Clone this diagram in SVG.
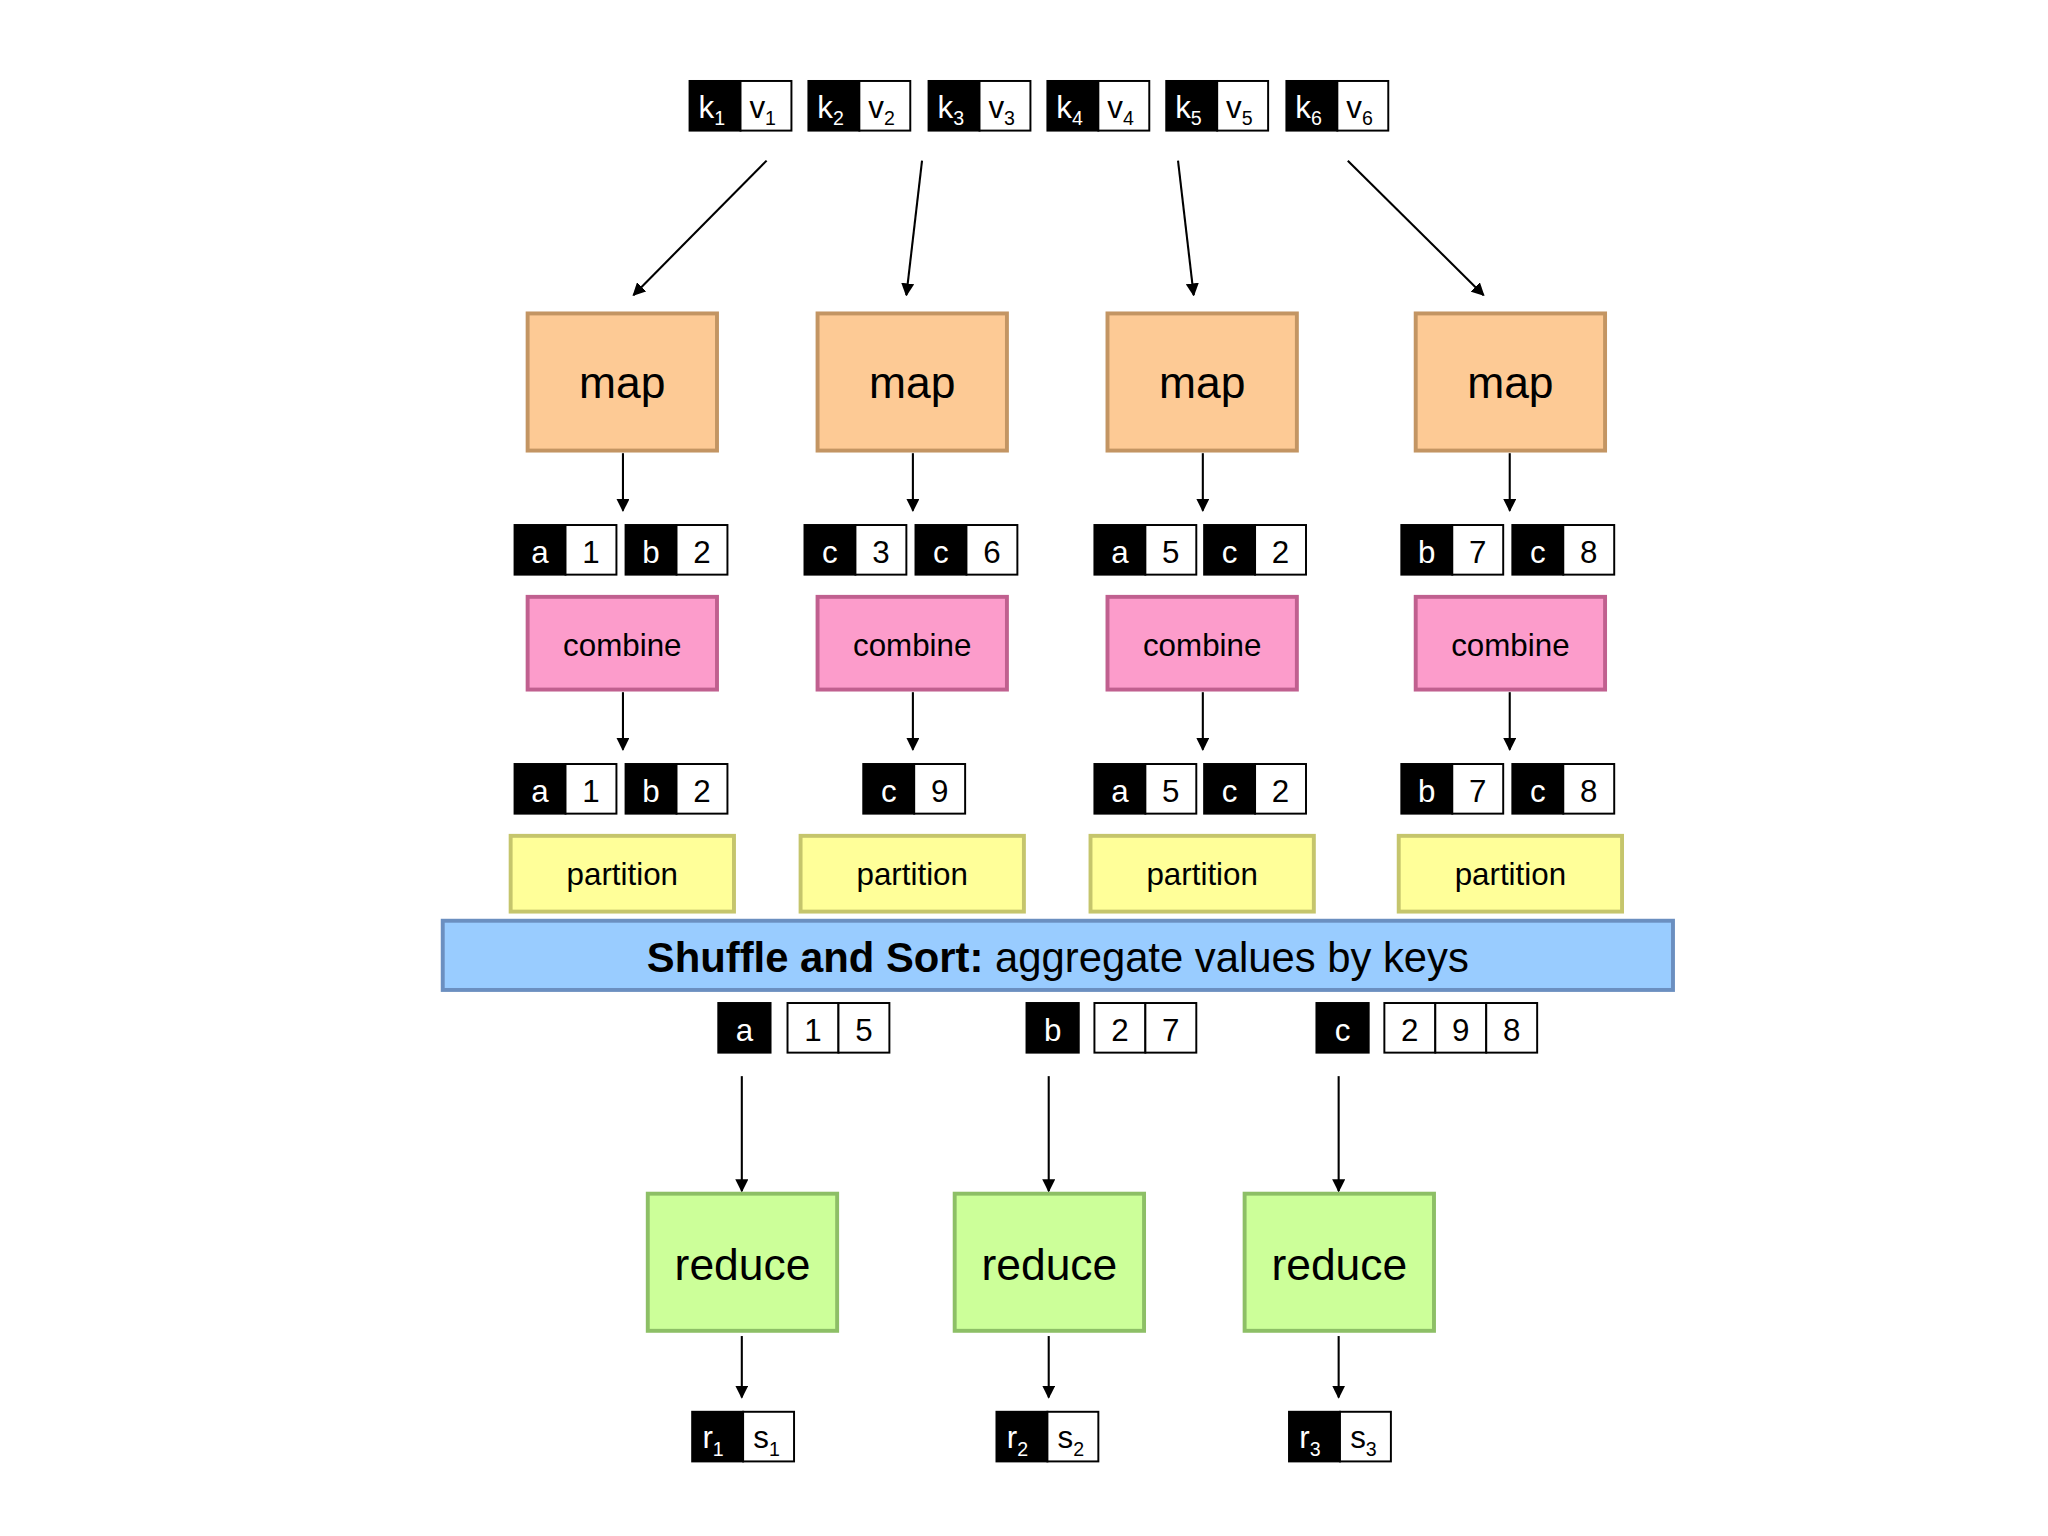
<svg xmlns="http://www.w3.org/2000/svg" width="2048" height="1536" viewBox="0 0 2048 1536">
<defs>
<marker id="ah" markerWidth="10" markerHeight="10" refX="9" refY="5" orient="auto" markerUnits="userSpaceOnUse"><path d="M0,0 L10,5 L0,10 Z" fill="#000"/></marker>
<style>
text{font-family:"Liberation Sans",Arial,sans-serif;text-anchor:middle}
.k{fill:#000;stroke:#000;stroke-width:1.5}
.v{fill:#fff;stroke:#000;stroke-width:1.5}
.kt{fill:#fff;font-size:24px}
.vt{fill:#000;font-size:24px}
.map{fill:#fdca95;stroke:#c39563;stroke-width:3}
.comb{fill:#fc9ccb;stroke:#c0608f;stroke-width:3}
.part{fill:#ffff99;stroke:#c5c56c;stroke-width:3}
.red{fill:#ccff99;stroke:#8dbf66;stroke-width:3}
.c line{stroke:#000;stroke-width:1.6;marker-end:url(#ah)}
</style>
</defs>
<rect width="2048" height="1536" fill="#fff"/>
<g transform="scale(1.306)">
<g id="inputs">
<rect class="k" x="528" y="62" width="39" height="38"/><rect class="v" x="567" y="62" width="39" height="38"/><text class="kt" x="545" y="90">k<tspan font-size="15" dy="6">1</tspan></text><text class="vt" x="584" y="90">v<tspan font-size="15" dy="6">1</tspan></text>
<rect class="k" x="619" y="62" width="39" height="38"/><rect class="v" x="658" y="62" width="39" height="38"/><text class="kt" x="636" y="90">k<tspan font-size="15" dy="6">2</tspan></text><text class="vt" x="675" y="90">v<tspan font-size="15" dy="6">2</tspan></text>
<rect class="k" x="711" y="62" width="39" height="38"/><rect class="v" x="750" y="62" width="39" height="38"/><text class="kt" x="728" y="90">k<tspan font-size="15" dy="6">3</tspan></text><text class="vt" x="767" y="90">v<tspan font-size="15" dy="6">3</tspan></text>
<rect class="k" x="802" y="62" width="39" height="38"/><rect class="v" x="841" y="62" width="39" height="38"/><text class="kt" x="819" y="90">k<tspan font-size="15" dy="6">4</tspan></text><text class="vt" x="858" y="90">v<tspan font-size="15" dy="6">4</tspan></text>
<rect class="k" x="893" y="62" width="39" height="38"/><rect class="v" x="932" y="62" width="39" height="38"/><text class="kt" x="910" y="90">k<tspan font-size="15" dy="6">5</tspan></text><text class="vt" x="949" y="90">v<tspan font-size="15" dy="6">5</tspan></text>
<rect class="k" x="985" y="62" width="39" height="38"/><rect class="v" x="1024" y="62" width="39" height="38"/><text class="kt" x="1002" y="90">k<tspan font-size="15" dy="6">6</tspan></text><text class="vt" x="1041" y="90">v<tspan font-size="15" dy="6">6</tspan></text>
</g>
<g id="map1"><rect class="map" x="404" y="240" width="145" height="105"/><text x="476.5" y="305" font-size="34">map</text></g>
<g id="map2"><rect class="map" x="626" y="240" width="145" height="105"/><text x="698.5" y="305" font-size="34">map</text></g>
<g id="map3"><rect class="map" x="848" y="240" width="145" height="105"/><text x="920.5" y="305" font-size="34">map</text></g>
<g id="map4"><rect class="map" x="1084" y="240" width="145" height="105"/><text x="1156.5" y="305" font-size="34">map</text></g>
<g id="mapout">
<rect class="k" x="394" y="402" width="39" height="38"/><rect class="v" x="433" y="402" width="39" height="38"/><text class="kt" x="413.5" y="431">a</text><text class="vt" x="452.5" y="431">1</text>
<rect class="k" x="479" y="402" width="39" height="38"/><rect class="v" x="518" y="402" width="39" height="38"/><text class="kt" x="498.5" y="431">b</text><text class="vt" x="537.5" y="431">2</text>
<rect class="k" x="616" y="402" width="39" height="38"/><rect class="v" x="655" y="402" width="39" height="38"/><text class="kt" x="635.5" y="431">c</text><text class="vt" x="674.5" y="431">3</text>
<rect class="k" x="701" y="402" width="39" height="38"/><rect class="v" x="740" y="402" width="39" height="38"/><text class="kt" x="720.5" y="431">c</text><text class="vt" x="759.5" y="431">6</text>
<rect class="k" x="838" y="402" width="39" height="38"/><rect class="v" x="877" y="402" width="39" height="38"/><text class="kt" x="857.5" y="431">a</text><text class="vt" x="896.5" y="431">5</text>
<rect class="k" x="922" y="402" width="39" height="38"/><rect class="v" x="961" y="402" width="39" height="38"/><text class="kt" x="941.5" y="431">c</text><text class="vt" x="980.5" y="431">2</text>
<rect class="k" x="1073" y="402" width="39" height="38"/><rect class="v" x="1112" y="402" width="39" height="38"/><text class="kt" x="1092.5" y="431">b</text><text class="vt" x="1131.5" y="431">7</text>
<rect class="k" x="1158" y="402" width="39" height="38"/><rect class="v" x="1197" y="402" width="39" height="38"/><text class="kt" x="1177.5" y="431">c</text><text class="vt" x="1216.5" y="431">8</text>
</g>
<g id="comb1"><rect class="comb" x="404" y="457" width="145" height="71"/><text x="476.5" y="502" font-size="24">combine</text></g>
<g id="comb2"><rect class="comb" x="626" y="457" width="145" height="71"/><text x="698.5" y="502" font-size="24">combine</text></g>
<g id="comb3"><rect class="comb" x="848" y="457" width="145" height="71"/><text x="920.5" y="502" font-size="24">combine</text></g>
<g id="comb4"><rect class="comb" x="1084" y="457" width="145" height="71"/><text x="1156.5" y="502" font-size="24">combine</text></g>
<g id="combout">
<rect class="k" x="394" y="585" width="39" height="38"/><rect class="v" x="433" y="585" width="39" height="38"/><text class="kt" x="413.5" y="614">a</text><text class="vt" x="452.5" y="614">1</text>
<rect class="k" x="479" y="585" width="39" height="38"/><rect class="v" x="518" y="585" width="39" height="38"/><text class="kt" x="498.5" y="614">b</text><text class="vt" x="537.5" y="614">2</text>
<rect class="k" x="661" y="585" width="39" height="38"/><rect class="v" x="700" y="585" width="39" height="38"/><text class="kt" x="680.5" y="614">c</text><text class="vt" x="719.5" y="614">9</text>
<rect class="k" x="838" y="585" width="39" height="38"/><rect class="v" x="877" y="585" width="39" height="38"/><text class="kt" x="857.5" y="614">a</text><text class="vt" x="896.5" y="614">5</text>
<rect class="k" x="922" y="585" width="39" height="38"/><rect class="v" x="961" y="585" width="39" height="38"/><text class="kt" x="941.5" y="614">c</text><text class="vt" x="980.5" y="614">2</text>
<rect class="k" x="1073" y="585" width="39" height="38"/><rect class="v" x="1112" y="585" width="39" height="38"/><text class="kt" x="1092.5" y="614">b</text><text class="vt" x="1131.5" y="614">7</text>
<rect class="k" x="1158" y="585" width="39" height="38"/><rect class="v" x="1197" y="585" width="39" height="38"/><text class="kt" x="1177.5" y="614">c</text><text class="vt" x="1216.5" y="614">8</text>
</g>
<g id="part1"><rect class="part" x="391" y="640" width="171" height="58"/><text x="476.5" y="678" font-size="24">partition</text></g>
<g id="part2"><rect class="part" x="613" y="640" width="171" height="58"/><text x="698.5" y="678" font-size="24">partition</text></g>
<g id="part3"><rect class="part" x="835" y="640" width="171" height="58"/><text x="920.5" y="678" font-size="24">partition</text></g>
<g id="part4"><rect class="part" x="1071" y="640" width="171" height="58"/><text x="1156.5" y="678" font-size="24">partition</text></g>
<g id="shuffle"><rect x="339" y="705" width="942" height="53" fill="#99ccff" stroke="#6b8fc0" stroke-width="3"/><text x="810" y="744" font-size="32"><tspan font-weight="bold">Shuffle and Sort:</tspan> aggregate values by keys</text></g>
<g id="groups">
<rect class="k" x="550" y="768" width="40" height="38"/><text class="kt" x="570" y="797">a</text>
<rect class="v" x="603" y="768" width="39" height="38"/><rect class="v" x="642" y="768" width="39" height="38"/><text class="vt" x="622.5" y="797">1</text><text class="vt" x="661.5" y="797">5</text>
<rect class="k" x="786" y="768" width="40" height="38"/><text class="kt" x="806" y="797">b</text>
<rect class="v" x="838" y="768" width="39" height="38"/><rect class="v" x="877" y="768" width="39" height="38"/><text class="vt" x="857.5" y="797">2</text><text class="vt" x="896.5" y="797">7</text>
<rect class="k" x="1008" y="768" width="40" height="38"/><text class="kt" x="1028" y="797">c</text>
<rect class="v" x="1060" y="768" width="39" height="38"/><rect class="v" x="1099" y="768" width="39" height="38"/><rect class="v" x="1138" y="768" width="39" height="38"/><text class="vt" x="1079.5" y="797">2</text><text class="vt" x="1118.5" y="797">9</text><text class="vt" x="1157.5" y="797">8</text>
</g>
<g id="red1"><rect class="red" x="496" y="914" width="145" height="105"/><text x="568.5" y="980" font-size="34">reduce</text></g>
<g id="red2"><rect class="red" x="731" y="914" width="145" height="105"/><text x="803.5" y="980" font-size="34">reduce</text></g>
<g id="red3"><rect class="red" x="953" y="914" width="145" height="105"/><text x="1025.5" y="980" font-size="34">reduce</text></g>
<g id="outputs">
<rect class="k" x="530" y="1081" width="39" height="38"/><rect class="v" x="569" y="1081" width="39" height="38"/><text class="kt" x="546" y="1109">r<tspan font-size="15" dy="6">1</tspan></text><text class="vt" x="587" y="1109">s<tspan font-size="15" dy="6">1</tspan></text>
<rect class="k" x="763" y="1081" width="39" height="38"/><rect class="v" x="802" y="1081" width="39" height="38"/><text class="kt" x="779" y="1109">r<tspan font-size="15" dy="6">2</tspan></text><text class="vt" x="820" y="1109">s<tspan font-size="15" dy="6">2</tspan></text>
<rect class="k" x="987" y="1081" width="39" height="38"/><rect class="v" x="1026" y="1081" width="39" height="38"/><text class="kt" x="1003" y="1109">r<tspan font-size="15" dy="6">3</tspan></text><text class="vt" x="1044" y="1109">s<tspan font-size="15" dy="6">3</tspan></text>
</g>
<g id="connectors" class="c">
<line x1="587" y1="123" x2="485" y2="226"/>
<line x1="706" y1="123" x2="694" y2="226"/>
<line x1="902" y1="123" x2="914" y2="226"/>
<line x1="1032" y1="123" x2="1136" y2="226"/>
<line x1="477" y1="347" x2="477" y2="391"/>
<line x1="699" y1="347" x2="699" y2="391"/>
<line x1="921" y1="347" x2="921" y2="391"/>
<line x1="1156" y1="347" x2="1156" y2="391"/>
<line x1="477" y1="530" x2="477" y2="574"/>
<line x1="699" y1="530" x2="699" y2="574"/>
<line x1="921" y1="530" x2="921" y2="574"/>
<line x1="1156" y1="530" x2="1156" y2="574"/>
<line x1="568" y1="824" x2="568" y2="912"/>
<line x1="803" y1="824" x2="803" y2="912"/>
<line x1="1025" y1="824" x2="1025" y2="912"/>
<line x1="568" y1="1023" x2="568" y2="1070"/>
<line x1="803" y1="1023" x2="803" y2="1070"/>
<line x1="1025" y1="1023" x2="1025" y2="1070"/>
</g>
</g>
</svg>
